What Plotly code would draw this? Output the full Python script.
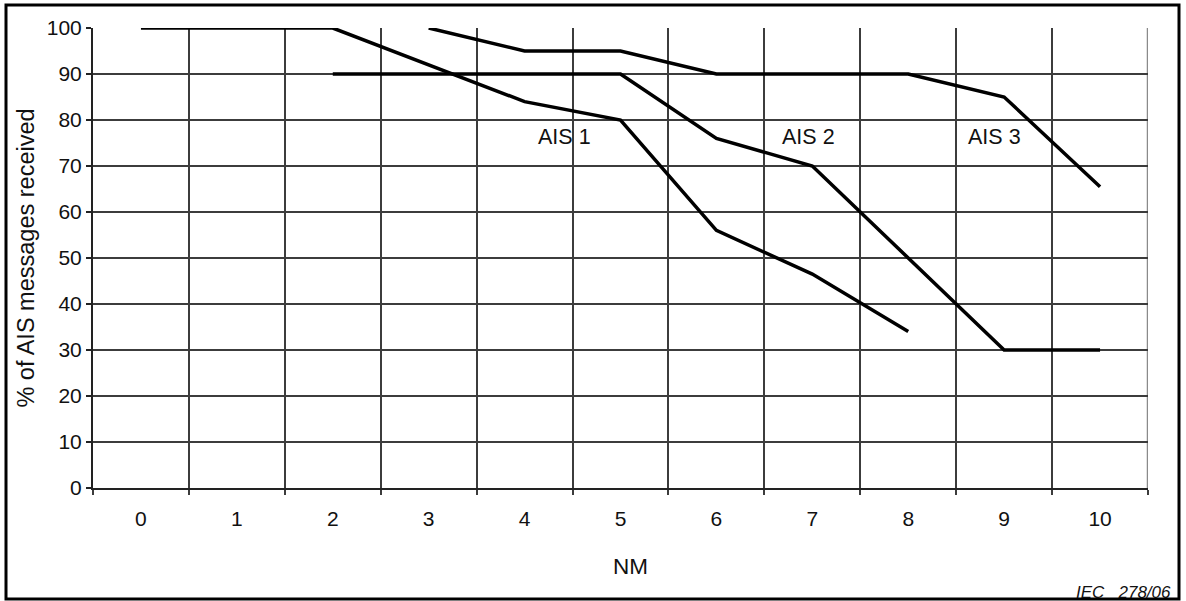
import plotly.graph_objects as go

# Distance in nautical miles (category positions 0..10)
nm_ticks = list(range(0, 11))
nm_labels = [str(v) for v in nm_ticks]

# Percentage of AIS messages received per series
ais1_nm = [0, 2, 4, 5, 6, 7, 8]
ais1_pct = [100, 100, 84, 80, 56, 46.5, 34]

ais2_nm = [2, 5, 6, 7, 9, 10]
ais2_pct = [90, 90, 76, 70, 30, 30]

ais3_nm = [3, 4, 5, 6, 8, 9, 10]
ais3_pct = [100, 95, 95, 90, 90, 85, 65.5]

series_names = ["AIS 1", "AIS 2", "AIS 3"]
y_ticks = list(range(0, 101, 10))

W, H = 1186, 601
L, R, T, B = 93, 38, 28, 113
FONT = "Liberation Sans, Arial, sans-serif"
TXT = "#111111"
GRID = "#3c3c3c"

fig = go.Figure()
for name, xs, ys in zip(series_names,
                        [ais1_nm, ais2_nm, ais3_nm],
                        [ais1_pct, ais2_pct, ais3_pct]):
    fig.add_trace(go.Scatter(x=xs, y=ys, mode="lines", name=name,
                             line=dict(color="black", width=3.5),
                             showlegend=False, hoverinfo="skip"))

# Series labels placed inside the grid
label_pos = {"AIS 1": (4.42, 76.3), "AIS 2": (6.96, 76.3), "AIS 3": (8.9, 76.3)}
for name in series_names:
    x, y = label_pos[name]
    fig.add_annotation(x=x, y=y, text=name, showarrow=False,
                       xanchor="center", yanchor="middle",
                       font=dict(family=FONT, size=21.5, color=TXT))

pw = W - L - R
ph = H - T - B


def px_x(p):
    return (p - L) / pw


def px_y(p):
    return 1 - (p - T) / ph


# Outer frame around the whole figure
fig.add_shape(type="rect", xref="paper", yref="paper",
              x0=px_x(6), x1=px_x(1179), y0=px_y(599), y1=px_y(5),
              line=dict(color="black", width=3), layer="above")
# Right edge of the grid
fig.add_shape(type="line", xref="x", yref="y", x0=10.5, x1=10.5, y0=0, y1=100,
              line=dict(color="#8a8a8a", width=2.5), layer="below")

# Axis title and figure reference
fig.add_annotation(xref="paper", yref="paper", x=px_x(630), y=px_y(566),
                   xanchor="center", yanchor="middle",
                   text="NM", showarrow=False,
                   font=dict(family=FONT, size=22.5, color=TXT))
fig.add_annotation(xref="paper", yref="paper", x=px_x(1173), y=px_y(592),
                   xanchor="right", yanchor="middle",
                   text="<i>IEC\u00a0\u00a0\u00a0278/06</i>", showarrow=False,
                   font=dict(family=FONT, size=17, color=TXT))

fig.update_xaxes(range=[-0.5, 10.5], tickmode="array", tickvals=nm_ticks,
                 ticktext=nm_labels, ticks="", showgrid=False,
                 tickfont=dict(family=FONT, size=21, color=TXT),
                 ticklabelstandoff=11,
                 showline=True, linecolor="#222222", linewidth=2,
                 zeroline=False,
                 minor=dict(tick0=0.5, dtick=1, showgrid=True, gridcolor=GRID,
                            gridwidth=1.5, ticks="outside", ticklen=5,
                            tickcolor=GRID, tickwidth=1.5))
fig.update_yaxes(range=[0, 100], tickmode="array", tickvals=y_ticks,
                 ticks="outside", ticklen=5, tickcolor="#222222", tickwidth=1.5,
                 showgrid=True, gridcolor=GRID, gridwidth=1.5,
                 tickfont=dict(family=FONT, size=21, color=TXT),
                 showline=True, linecolor="#222222", linewidth=2,
                 zeroline=False,
                 title=dict(text="% of AIS messages received", standoff=6,
                            font=dict(family=FONT, size=23.5, color=TXT)))

fig.update_layout(width=W, height=H, margin=dict(l=L, r=R, t=T, b=B),
                  plot_bgcolor="white", paper_bgcolor="white")

fig.write_html("out.html")
